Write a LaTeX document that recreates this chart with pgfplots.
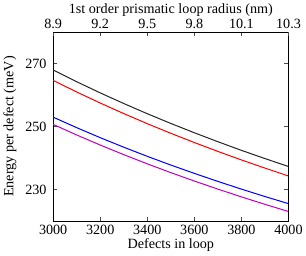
\documentclass[border=0pt]{standalone}
\usepackage{pgfplots}
\pgfplotsset{compat=1.18}
\usepackage{fontspec}
\setmainfont{Liberation Serif}
\definecolor{mpm}{rgb}{0.75,0,0.75}
\begin{document}
\begin{tikzpicture}[font=\fontsize{14}{16}\selectfont]
\pgfplotsset{every axis/.append style={
  width=232bp, height=186bp, scale only axis,
  xmin=3000, xmax=4000, ymin=220, ymax=280,
  /pgf/number format/assume math mode=true,
  /pgf/number format/set thousands separator={},
  tick align=inside, major tick length=4pt,
  tick style={line width=0.5pt, color=black!70},
  axis line style={line width=0.8pt},
  label style={font=\fontsize{14}{16}\selectfont},
  tick label style={font=\fontsize{14}{16}\selectfont},
}}
\begin{axis}[
  xtick={3000,3200,...,4000},
  ytick={230,250,270},
  xlabel={Defects in loop},
  ylabel={Energy per defect (meV)},
  xlabel style={yshift=3pt},
  ylabel style={yshift=2pt},
  yticklabel style={xshift=-3pt},
  xticklabel style={yshift=-1pt},
  every axis plot/.append style={line width=1pt},
]
\addplot[color=black!85, no marks] coordinates {
(3000,268.0)(3100,264.27)(3200,260.72)(3300,257.34)(3400,254.10)(3500,251.00)
(3600,248.04)(3700,245.19)(3800,242.45)(3900,239.83)(4000,237.3)};
\addplot[color=red, no marks] coordinates {
(3000,264.7)(3100,261.01)(3200,257.50)(3300,254.14)(3400,250.93)(3500,247.87)
(3600,244.93)(3700,242.11)(3800,239.40)(3900,236.80)(4000,234.3)};
\addplot[color=blue, no marks] coordinates {
(3000,253.0)(3100,249.66)(3200,246.48)(3300,243.45)(3400,240.55)(3500,237.77)
(3600,235.12)(3700,232.57)(3800,230.12)(3900,227.76)(4000,225.5)};
\addplot[color=mpm, no marks] coordinates {
(3000,250.7)(3100,247.34)(3200,244.14)(3300,241.08)(3400,238.16)(3500,235.36)
(3600,232.69)(3700,230.12)(3800,227.65)(3900,225.28)(4000,223.0)};
\end{axis}
\begin{axis}[
  axis x line*=top, axis y line=none,
  xtick={3000,3200,...,4000},
  xticklabels={8.9,9.2,9.5,9.8,10.1,10.3},
  xlabel={1st order prismatic loop radius (nm)},
  xlabel style={yshift=-4pt},
  ymajorticks=false,
]
\end{axis}
\end{tikzpicture}
\end{document}
